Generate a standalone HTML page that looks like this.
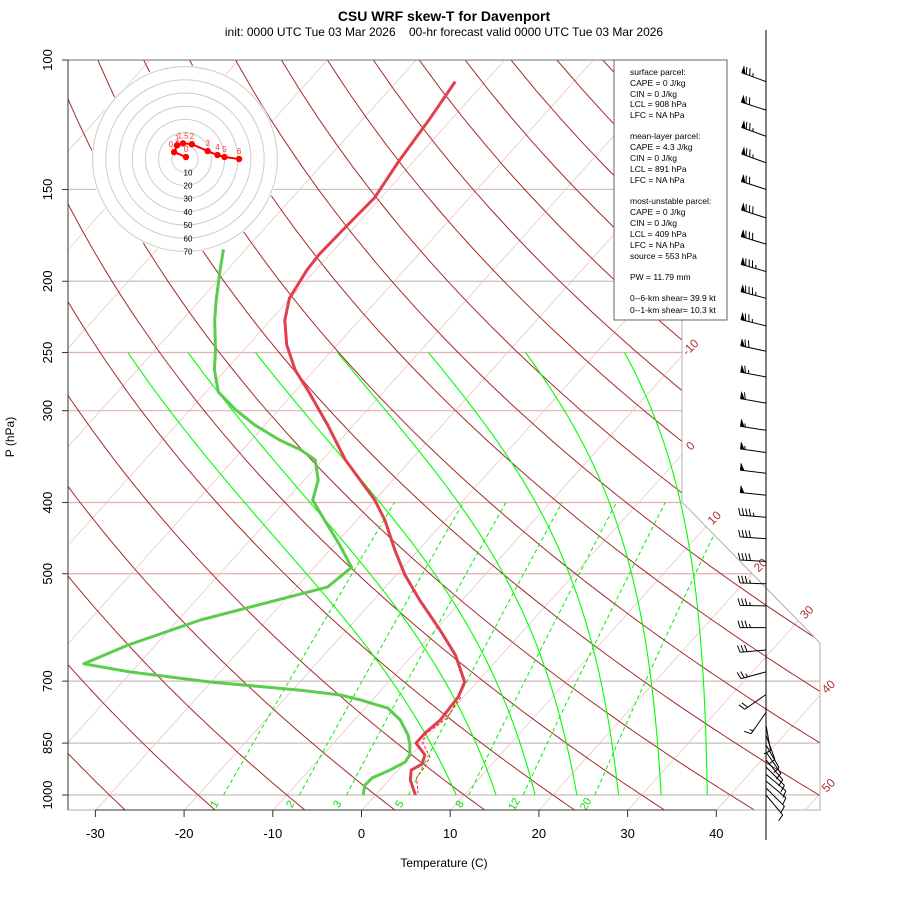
<!DOCTYPE html>
<html><head><meta charset="utf-8"><style>
body{margin:0;background:#fff;}
svg{display:block;font-family:"Liberation Sans",Arial,sans-serif;}
</style></head><body>
<svg id="chart" width="900" height="900" viewBox="0 0 900 900" xmlns="http://www.w3.org/2000/svg">
<defs><clipPath id="plotclip"><polygon points="68,60 682,60 682,502 820,643 820,810 68,810"/></clipPath></defs>
<text x="444" y="21" text-anchor="middle" font-size="14" font-weight="bold">CSU WRF skew-T for Davenport</text>
<text x="444" y="36" text-anchor="middle" font-size="12" xml:space="preserve">init: 0000 UTC Tue 03 Mar 2026    00-hr forecast valid 0000 UTC Tue 03 Mar 2026</text>
<g id="grid" clip-path="url(#plotclip)"></g>
<g id="traces"></g>
<g id="axes"></g>
<g id="hodo"></g>
<g id="legend"></g>
<g id="barbs"></g>
</svg>
<script>
// ---- data ----
const pressureTicks = [100,150,200,250,300,400,500,700,850,1000];
const tempTicks = [-30,-20,-10,0,10,20,30,40];
const isoLabelTemps = [-10,0,10,20,30,40,50];
const mixingRatios = [1,2,3,5,8,12,20];
const moistStartT = [9.1,13.6,18.0,22.7,27.4,32.2,37.4];
const tempP = [107,120,137,154,169,184,193,211,226,244,264,284,314,350,397,423,464,502,543,596,645,702,736,791,824,850,882,908,925,954,1000];
const tempT = [-63.4,-62.5,-61.7,-60.7,-61.0,-61.2,-61.0,-60.1,-58.4,-55.7,-52.2,-48.2,-42.9,-37.4,-30.0,-26.8,-22.7,-19.0,-14.8,-9.5,-5.2,-1.4,-0.6,-0.3,-0.7,-0.7,1.5,2.1,1.5,2.4,4.5];
const dewP = [181,193,212,226,248,264,283,299,314,329,339,350,373,397,423,457,490,521,578,625,663,680,702,720,731,743,762,791,829,855,882,902,925,948,969,1000];
const dewT = [-72.5,-70.8,-68.2,-66.3,-63.2,-61.3,-58.6,-54.9,-51.1,-46.8,-43.5,-40.8,-38.4,-37.0,-33.6,-29.4,-25.8,-26.5,-37.5,-43.1,-46.2,-40.2,-30.1,-19.2,-14.1,-11.2,-7.4,-4.8,-2.4,-1.2,-0.2,0.0,-0.9,-2.1,-2.2,-1.4];
const parcelP = [736,786,824,847,888,916,948,994];
const parcelT = [-0.3,0.25,-0.5,-0.1,2.3,2.7,2.9,4.6];
const hodoHeights = ["0","0.5","1","1.5","2","3","4","5","6"];
const hodoU = [0.7,-8.2,-6.0,-1.5,5.2,17.2,24.6,29.9,41.0];
const hodoV = [1.5,5.2,10.4,11.9,11.2,6.0,3.0,1.5,0.0];
const hodoRings = [10,20,30,40,50,60,70];
const windP = [107,117,127,138,150,164,178,194,211,230,249,270,293,319,342,365,391,419,448,481,516,553,592,635,680,730,772,803,829,855,874,896,916,937,957,978,1000];
const windSpd = [75,70,75,75,70,80,80,85,85,75,70,65,60,55,55,50,50,45,40,40,35,35,35,30,25,20,15,10,10,10,10,10,12,12,12,10,10];
const windDir = [290,288,290,290,288,288,287,286,285,284,282,281,280,279,278,277,276,275,274,273,272,271,270,265,255,235,215,170,160,150,145,140,135,130,130,135,140];

// ---- axis functions ----
const Y = p => 60 + 319.2*Math.log(p/100);
const X = (T,p) => 362 + 8.87*T + 0.9*(810 - Y(p));
const NS = "http://www.w3.org/2000/svg";
function mk(parent, tag, attrs){const e=document.createElementNS(NS,tag);for(const k in attrs)e.setAttribute(k,attrs[k]);parent.appendChild(e);return e;}
function pathFrom(pts){return pts.map((q,i)=>(i?"L":"M")+q[0].toFixed(1)+","+q[1].toFixed(1)).join("");}
const grid=document.getElementById('grid'), traces=document.getElementById('traces'), axes=document.getElementById('axes');

// pressure lines
pressureTicks.forEach(p=>{
  const col = (p>=250&&p<=500)?"#e2b0b0":"#cdbcbc";
  const l=mk(grid,'line',{x1:68,x2:830,y1:Y(p),y2:Y(p),stroke:col,'stroke-width':1.2});
  
  
});
// isotherms
for(let T=-120;T<=50;T+=10){
  const l=mk(grid,'line',{x1:X(T,1050),y1:Y(1050),x2:X(T,100),y2:Y(100),stroke:"#ebc6c6",'stroke-width':0.8});
  
  
}
// dry adiabats
for(let th=-30;th<=170;th+=10){
  const pts=[];for(let p=1050;p>=100;p-=10){const T=(th+273.15)*Math.pow(p/1000,0.286)-273.15;pts.push([X(T,p),Y(p)]);}
  const e=mk(grid,'path',{d:pathFrom(pts),fill:"none",stroke:"#a52a2a",'stroke-width':1});
  
  
}
// mixing ratio lines
function tFromW(w,p){const e=w*p/(622+w);const a=Math.log(e/6.112);return 243.5*a/(17.67-a);}
mixingRatios.forEach(w=>{
  const pts=[];for(let p=1000;p>=400;p-=10){pts.push([X(tFromW(w,p),p),Y(p)]);}
  const e=mk(grid,'path',{d:pathFrom(pts),fill:"none",stroke:"#00ee00",'stroke-width':1,'stroke-dasharray':"4,3"});
  
  
  const lx=X(tFromW(w,1000),1030), ly=Y(1030);
  const t=mk(axes,'text',{x:lx,y:ly,'font-size':11,fill:"#00dd00",'text-anchor':"middle",'dominant-baseline':"middle",transform:`rotate(-60 ${lx} ${ly})`});
  t.textContent=w;
  
  
});
// moist adiabats
moistStartT.forEach(T0=>{
  const f=0.78-0.00022*(T0-10)*(T0-10);
  let T=T0+273.15;const pts=[[X(T0,1000),Y(1000)]];
  for(let p=1000;p>250;p-=2){
    const es=6.112*Math.exp(17.67*(T-273.15)/(T-29.65));const rs=f*0.622*es/(p-es);
    const dTdp=(287*T+2.5e6*rs)/(p*(1004+2.5e6*2.5e6*rs*0.622/(287*T*T)));
    T-=dTdp*2;pts.push([X(T-273.15,p-2),Y(p-2)]);
  }
  const e=mk(grid,'path',{d:pathFrom(pts),fill:"none",stroke:"#00ff00",'stroke-width':1.1});
  
  
});
// boundary
const bd=mk(axes,'polyline',{points:"682,60 682,502 820,643 820,810 68,810",fill:"none",stroke:"#b0b0b0",'stroke-width':1});


const tl=mk(axes,'line',{x1:68,y1:60,x2:682,y2:60,stroke:"#777",'stroke-width':1});


// isotherm labels
isoLabelTemps.forEach(T=>{
  const a=362+8.87*T+729;
  let y=(a-682)/0.9, x=682;
  if(y>502){y=(a-682+0.979*502)/(1.879);x=682+0.979*(y-502);}
  if(x>820){x=820;}
  const yy = 810 - (x - 362 - 8.87*T)/0.9;
  const lx=x+9, ly=yy-8;
  const t=mk(axes,'text',{x:lx,y:ly,'font-size':12,fill:"#b03030",'text-anchor':"middle",'dominant-baseline':"middle",transform:`rotate(-45 ${lx} ${ly})`});
  t.textContent=T;
  
  
});

// traces
function trace(P,T,col,w,dash,name){
  const pts=P.map((p,i)=>[X(T[i],p),Y(p)]);
  const e=mk(traces,'path',{d:pathFrom(pts),fill:"none",stroke:col,'stroke-width':w,'stroke-linejoin':"round"});
  if(dash)e.setAttribute('stroke-dasharray',dash);
  
  
}
trace(parcelP,parcelT,"#ff2020",1,"3,2","parcel-trace");
trace(tempP,tempT,"#e0404e",3,null,"temperature-trace");
trace(dewP,dewT,"#5ccc4c",3,null,"dewpoint-trace");

// left axis
const la=mk(axes,'line',{x1:68,y1:60,x2:68,y2:810,stroke:"#333",'stroke-width':1});


pressureTicks.forEach(p=>{
  const tk=mk(axes,'line',{x1:62,x2:68,y1:Y(p),y2:Y(p),stroke:"#333"});
  
  
  const t=mk(axes,'text',{x:52,y:Y(p),'font-size':13,'text-anchor':"middle",transform:`rotate(-90 52 ${Y(p)})`});
  t.textContent=p;
  
  
});
const yt=mk(axes,'text',{x:14,y:437,'font-size':12,'text-anchor':"middle",transform:"rotate(-90 14 437)"});
yt.textContent="P (hPa)";


// bottom axis
const ba=mk(axes,'line',{x1:X(-30,1050),y1:810,x2:X(40,1050),y2:810,stroke:"#333"});


tempTicks.forEach(T=>{
  const x=X(T,1050);
  const tk=mk(axes,'line',{x1:x,x2:x,y1:810,y2:817,stroke:"#333"});
  
  
  const t=mk(axes,'text',{x:x,y:838,'font-size':13,'text-anchor':"middle"});
  t.textContent=T;
  
  
});
const xt=mk(axes,'text',{x:444,y:867,'font-size':12,'text-anchor':"middle"});
xt.textContent="Temperature (C)";



// hodograph
const hodo=document.getElementById('hodo');const hcx=185,hcy=159,hs=1.32;
const disc=mk(hodo,'circle',{cx:hcx,cy:hcy,r:hs*71,fill:"#fff",stroke:"none"});


hodoRings.forEach(r=>{
  const c=mk(hodo,'circle',{cx:hcx,cy:hcy,r:r*hs,fill:"none",stroke:"#cccccc",'stroke-width':1});
  
  
  const t=mk(hodo,'text',{x:hcx+3,y:hcy+r*hs+1,'font-size':8,'text-anchor':"middle",'dominant-baseline':"middle"});
  t.textContent=r;
  
  
});
const hp=hodoU.map((u,i)=>[hcx+u*hs,hcy-hodoV[i]*hs]);
const hl=mk(hodo,'path',{d:pathFrom(hp),fill:"none",stroke:"#ff0000",'stroke-width':2});


hp.forEach((q,i)=>{
  const c=mk(hodo,'circle',{cx:q[0],cy:q[1],r:3.2,fill:"#ff0000"});
  
  
  const t=mk(hodo,'text',{x:q[0],y:q[1]-5,'font-size':8,fill:"#ff3030",'text-anchor':"middle"});
  t.textContent=hodoHeights[i];
  
  
});

// legend
const lg=document.getElementById('legend');
const lr=mk(lg,'rect',{x:614,y:60,width:113,height:260,fill:"#fff",stroke:"#666",'stroke-width':1});


const legendLines=[["surface parcel:",75],["CAPE = 0 J/kg",86],["CIN = 0 J/kg",97],["LCL = 908 hPa",107],["LFC = NA hPa",118],
["mean-layer parcel:",139],["CAPE = 4.3 J/kg",150],["CIN = 0 J/kg",161],["LCL = 891 hPa",172],["LFC = NA hPa",183],
["most-unstable parcel:",204],["CAPE = 0 J/kg",215],["CIN = 0 J/kg",226],["LCL = 409 hPa",237],["LFC = NA hPa",248],["source = 553 hPa",259],
["PW =  11.79 mm",280],["0--6-km shear= 39.9 kt",301],["0--1-km shear= 10.3 kt",313]];
legendLines.forEach(a=>{
  const t=mk(lg,'text',{x:630,y:a[1],'font-size':8.5,'xml:space':"preserve"});
  t.textContent=a[0];
  
  
});

// wind barbs
const bg=document.getElementById('barbs');const sx=766;
const st=mk(bg,'line',{x1:sx,y1:30,x2:sx,y2:840,stroke:"#000",'stroke-width':1});


windP.forEach((p,i)=>{
  const y0=Y(p),d=windDir[i]*Math.PI/180,L=26;
  const vx=Math.sin(d),vy=-Math.cos(d),px=-vy,py=vx;
  const tx=sx+vx*L,ty=y0+vy*L;
  let dstr=`M${sx},${y0.toFixed(1)}L${tx.toFixed(1)},${ty.toFixed(1)}`;
  let s=Math.round(windSpd[i]/5)*5,pos=0;let flags="";
  while(s>=50){const ax=tx-vx*pos,ay=ty-vy*pos;const bx=tx-vx*(pos+4),by=ty-vy*(pos+4);
    flags+=`M${ax.toFixed(1)},${ay.toFixed(1)}L${(ax+px*7).toFixed(1)},${(ay+py*7).toFixed(1)}L${bx.toFixed(1)},${by.toFixed(1)}Z`;pos+=5;s-=50;}
  while(s>=10){const ax=tx-vx*pos,ay=ty-vy*pos;dstr+=`M${ax.toFixed(1)},${ay.toFixed(1)}l${(px*7+vx*2).toFixed(1)},${(py*7+vy*2).toFixed(1)}`;pos+=3.5;s-=10;}
  if(s>=5){if(pos===0)pos=3.5;const ax=tx-vx*pos,ay=ty-vy*pos;dstr+=`M${ax.toFixed(1)},${ay.toFixed(1)}l${(px*3.5+vx).toFixed(1)},${(py*3.5+vy).toFixed(1)}`;}
  const e=mk(bg,'path',{d:dstr,fill:"none",stroke:"#000",'stroke-width':1});
  
  
  if(flags){const f=mk(bg,'path',{d:flags,fill:"#000",stroke:"#000",'stroke-width':0.5});
    
    }
});
</script>
</body></html>
